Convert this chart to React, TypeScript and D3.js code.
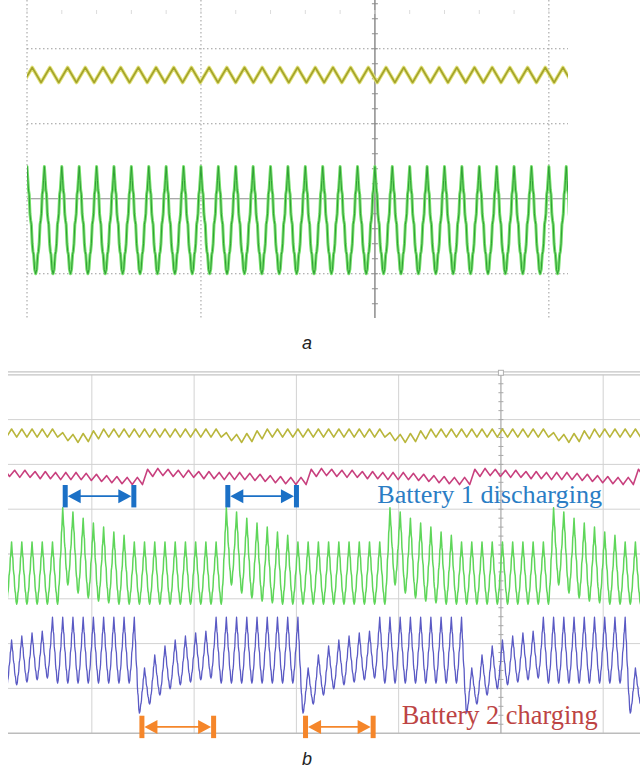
import * as d3 from "d3";

// ---------- panel a : steady state (values in scope divisions) ----------
const aGridX = [0, 1, 3];
const aGridY = [2, 1, -1];
const aYellowStart = 0.03;
const aYellowPeriod = 0.1017;
const aYellowPeaks = new Array(34).fill(1.75);
const aYellowTroughs = new Array(34).fill(1.55);
const aGreenStart = 0;
const aGreenPeriod = 0.1;
const aGreenPeaks = new Array(34).fill(0.43);
const aGreenTroughs = new Array(34).fill(-1.0);

// ---------- panel b : battery switching ----------
const bGridX = [-4, -3, -2, -1, 1];
const bGridY = [3, 2, 1, -1, -2, -3];
const bStart = -4.785;
const bPeriod = 0.1;
const bCycles = d3.range(-1, 63);

const greenBursts = [5, 21, 37, 53];
const greenBurstPeaks = [1.03, 0.94, 0.8, 0.69, 0.6, 0.49, 0.42];
const greenBurstTroughs = [-0.69, -0.87, -0.98, -1.05, -1.09, -1.12, -1.12];
const greenPeak = 0.27;
const greenTrough = -1.12;

const blueDrops = [-20, -4, 12, 28, 44, 60];
const blueRecoveryPeaks = [-2.54, -2.25, -2.05, -1.92, -1.83, -1.76, -1.72];
const blueRecoveryTroughs = [-3.55, -3.35, -3.15, -3.01, -2.92, -2.86, -2.81, -2.77];
const blueHighPeak = -1.41;
const blueHighTrough = -2.88;

const magentaLevels = [1.81, 1.83, 1.81, 1.79, 1.79, 1.76, 1.76, 1.74, 1.74, 1.74, 1.72, 1.7, 1.67, 1.65, 1.63, 1.63];
const magentaSwing = 0.08;
const yellowLevel = 2.7;
const yellowDip = [2.62, 2.58, 2.6, 2.66];
const yellowSwing = 0.09;

const blueArrows = [[5, 12.2], [20.9, 28.1]];
const orangeArrows = [[12.5, 20], [28.5, 35.6]];

// half-cycle outline, peak (0) to trough (1)
const stepShape: [number, number][] = [
  [0, 0], [0.1, 0.13], [0.17, 0.22], [0.25, 0.26], [0.34, 0.44], [0.42, 0.5],
  [0.5, 0.54], [0.6, 0.72], [0.68, 0.79], [0.76, 0.82], [0.88, 0.96], [1, 1],
];
const triShape: [number, number][] = [[0, 0], [1, 1]];

function wave(t0: number, period: number, peaks: number[], troughs: number[], shape: [number, number][]) {
  const pts: [number, number][] = [];
  for (let k = 0; k < peaks.length; k++) {
    const p = peaks[k];
    const tr = troughs[k];
    const pn = peaks[k + 1] ?? p;
    const tk = t0 + k * period;
    shape.forEach(([f, v], i) => {
      if (k > 0 && i === 0) return;
      pts.push([tk + (f * period) / 2, p + (tr - p) * v]);
    });
    if (k < peaks.length - 1) {
      shape.slice(0, -1).reverse().forEach(([f, v]) => {
        pts.push([tk + period / 2 + ((1 - f) * period) / 2, pn + (tr - pn) * v]);
      });
    }
  }
  return pts;
}

const lastBefore = (list: number[], k: number, strict: boolean) =>
  d3.max(list.filter((d) => (strict ? d < k : d <= k))) as number;

const burstIndex = (k: number) => {
  const s = greenBursts.find((b) => k >= b && k < b + greenBurstPeaks.length);
  return s === undefined ? -1 : k - s;
};

const bGreenPeaks = bCycles.map((k) => (burstIndex(k) >= 0 ? greenBurstPeaks[burstIndex(k)] : greenPeak));
const bGreenTroughs = bCycles.map((k) => (burstIndex(k) >= 0 ? greenBurstTroughs[burstIndex(k)] : greenTrough));

const bBluePeaks = bCycles.map((k) => {
  const pos = k - lastBefore(blueDrops, k, true);
  return pos <= blueRecoveryPeaks.length ? blueRecoveryPeaks[pos - 1] : blueHighPeak;
});
const bBlueTroughs = bCycles.map((k) => {
  const pos = k - lastBefore(blueDrops, k, false);
  return pos < blueRecoveryTroughs.length ? blueRecoveryTroughs[pos] : blueHighTrough;
});

const bMagentaMid = bCycles.map((k) => magentaLevels[k - lastBefore(blueDrops, k, true) - 1]);
const bYellowMid = bCycles.map((k) => {
  const s = greenBursts.find((b) => k >= b && k < b + yellowDip.length);
  return s === undefined ? yellowLevel : yellowDip[k - s];
});

export default function App() {
  const ax = d3.scaleLinear().domain([0, 3.11]).range([27, 568]);
  const ay = d3.scaleLinear().domain([-1.59, 2.65]).range([318, 0]);
  const bx = d3.scaleLinear().domain([-4.82, 1.36]).range([8, 640]);
  const by = d3.scaleLinear().domain([-4, 4]).range([733.2, 374.8]);

  const aLine = d3.line<[number, number]>().x((d) => ax(d[0])).y((d) => ay(d[1]));
  const bLine = d3.line<[number, number]>().x((d) => bx(d[0])).y((d) => by(d[1]));

  const aYellow = aLine(wave(aYellowStart - aYellowPeriod, aYellowPeriod, aYellowPeaks, aYellowTroughs, triShape)) ?? "";
  const aGreen = aLine(wave(aGreenStart - aGreenPeriod, aGreenPeriod, aGreenPeaks, aGreenTroughs, stepShape)) ?? "";

  const t0 = bStart + bCycles[0] * bPeriod;
  const bYellow = bLine(wave(t0, bPeriod, bYellowMid.map((m) => m + yellowSwing), bYellowMid.map((m) => m - yellowSwing), triShape)) ?? "";
  const bMagenta = bLine(wave(t0 + 0.03, bPeriod, bMagentaMid.map((m) => m + magentaSwing), bMagentaMid.map((m) => m - magentaSwing), triShape)) ?? "";
  const bGreen = bLine(wave(t0, bPeriod, bGreenPeaks, bGreenTroughs, stepShape)) ?? "";
  const bBlue = bLine(wave(t0, bPeriod, bBluePeaks, bBlueTroughs, stepShape)) ?? "";

  const aTicksY = d3.range(-1.4, 2.61, 0.2);
  const aTopTicks = d3.range(0, 3.11, 0.2);
  const bTicksY = d3.range(-3.8, 4, 0.2);
  const cycleT = (c: number) => bStart + c * bPeriod;

  const arrow = (c1: number, c2: number, yv: number, half: number, color: string, key: string) => {
    const x1 = bx(cycleT(c1));
    const x2 = bx(cycleT(c2));
    const y = by(yv);
    const h = by(yv - half) - y;
    return (
      <g key={key} fill={color} stroke="none">
        <rect x={x1} y={y - h} width={5} height={2 * h} />
        <rect x={x2 - 5} y={y - h} width={5} height={2 * h} />
        <line x1={x1 + 14} x2={x2 - 14} y1={y} y2={y} stroke={color} strokeWidth={1.8} />
        <path d={`M${x1 + 5},${y}L${x1 + 18},${y - 7}L${x1 + 18},${y + 7}Z`} />
        <path d={`M${x2 - 5},${y}L${x2 - 18},${y - 7}L${x2 - 18},${y + 7}Z`} />
      </g>
    );
  };

  return (
    <svg width={640} height={769} style={{ position: "absolute", left: 0, top: 0, background: "#fff" }} fontFamily="Liberation Serif">
      <defs>
        <clipPath id="clipA"><rect x={ax(0)} y={0} width={ax(3.11) - ax(0)} height={318} /></clipPath>
        <clipPath id="clipB"><rect x={bx(-4.82)} y={by(4)} width={bx(1.36) - bx(-4.82)} height={by(-4) - by(4)} /></clipPath>
      </defs>

      {/* panel a grid */}
      <g stroke="#9a9a9a" strokeWidth={1} strokeDasharray="1.5,2.5">
        {aGridX.map((d) => <line key={"ax" + d} x1={ax(d)} x2={ax(d)} y1={0} y2={318} />)}
        {aGridY.map((d) => <line key={"ay" + d} x1={ax(0)} x2={ax(3.11)} y1={ay(d)} y2={ay(d)} />)}
      </g>
      <line x1={ax(0)} x2={ax(3.11)} y1={ay(0)} y2={ay(0)} stroke="#8c8c8c" strokeWidth={1.2} />
      <line x1={ax(2)} x2={ax(2)} y1={0} y2={318} stroke="#8c8c8c" strokeWidth={1.5} />
      <g stroke="#8c8c8c">
        {aTicksY.map((d, i) => <line key={"at" + i} x1={ax(2) - 3} x2={ax(2) + 3} y1={ay(d)} y2={ay(d)} />)}
      </g>
      <g stroke="#dcdcdc">
        {aTopTicks.map((d, i) => <line key={"tt" + i} x1={ax(d)} x2={ax(d)} y1={10} y2={14} />)}
      </g>

      <g clipPath="url(#clipA)" fill="none" strokeLinejoin="round">
        <path d={aYellow} stroke="#e2e27a" strokeWidth={3.6} />
        <path d={aYellow} stroke="#a3a32a" strokeWidth={1.6} />
        <path d={aGreen} stroke="#74e06a" strokeWidth={3} />
        <path d={aGreen} stroke="#2f9d35" strokeWidth={1} />
      </g>
      <text x={307} y={349} fontFamily="Liberation Sans" fontStyle="italic" fontSize={18} textAnchor="middle" fill="#222">a</text>

      {/* panel b grid */}
      <g stroke="#d2d2d2" strokeWidth={1}>
        {bGridX.map((d) => <line key={"bx" + d} x1={bx(d)} x2={bx(d)} y1={by(4)} y2={by(-4)} />)}
        {bGridY.map((d) => <line key={"by" + d} x1={bx(-4.82)} x2={640} y1={by(d)} y2={by(d)} />)}
      </g>
      <line x1={bx(-4.82)} x2={640} y1={by(0)} y2={by(0)} stroke="#bdbdbd" />
      <line x1={bx(-4.82)} x2={640} y1={by(-4)} y2={by(-4)} stroke="#bcbcbc" strokeWidth={1.5} />
      <line x1={bx(-4.82)} x2={640} y1={by(4)} y2={by(4)} stroke="#c4c4c4" strokeWidth={1.2} />
      <line x1={bx(-4.82)} x2={640} y1={by(4) - 3} y2={by(4) - 3} stroke="#c4c4c4" strokeWidth={1.2} />
      <line x1={bx(0)} x2={bx(0)} y1={by(4)} y2={by(-4)} stroke="#a8a8a8" strokeWidth={1.2} />
      <g stroke="#a8a8a8">
        {bTicksY.map((d, i) => <line key={"bt" + i} x1={bx(0) - 2.5} x2={bx(0) + 2.5} y1={by(d)} y2={by(d)} />)}
      </g>
      <rect x={bx(0) - 2.5} y={by(4) - 4.5} width={5} height={5} fill="#fff" stroke="#b0b0b0" />

      <g clipPath="url(#clipB)" fill="none" strokeLinejoin="round">
        <path d={bYellow} stroke="#b9b63c" strokeWidth={1.6} />
        <path d={bMagenta} stroke="#c8407e" strokeWidth={1.6} />
        <path d={bGreen} stroke="#5fd65a" strokeWidth={1.5} />
        <path d={bBlue} stroke="#5a5ac4" strokeWidth={1.3} />
      </g>

      {blueArrows.map(([c1, c2], i) => arrow(c1, c2, 1.29, 0.25, "#1b70c6", "ba" + i))}
      {orangeArrows.map(([c1, c2], i) => arrow(c1, c2, -3.86, 0.25, "#f5862a", "oa" + i))}

      <text x={bx(-1.21)} y={by(1.14)} fontSize={26.2} fill="#2b7dc4">Battery 1 discharging</text>
      <text x={bx(-0.97)} y={by(-3.8)} fontSize={26.4} fill="#bd4444">Battery 2 charging</text>
      <text x={307} y={765} fontFamily="Liberation Sans" fontStyle="italic" fontSize={18} textAnchor="middle" fill="#222">b</text>
    </svg>
  );
}
